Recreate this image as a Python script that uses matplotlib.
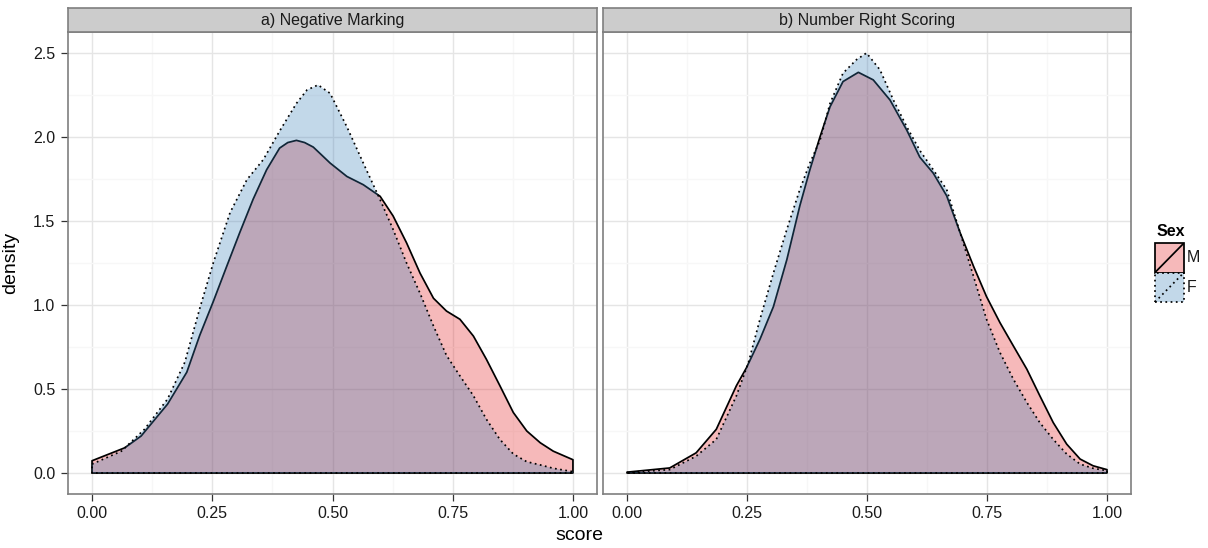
import matplotlib
matplotlib.use("Agg")
import matplotlib.pyplot as plt
from matplotlib.patches import Rectangle
from matplotlib.lines import Line2D

plt.rcParams['font.family'] = ['Liberation Sans', 'DejaVu Sans']

# values (score, density)
neg_m_x = [0.0, 0.068, 0.102, 0.157, 0.197, 0.224, 0.252, 0.28, 0.307, 0.335, 0.363, 0.39,
           0.407, 0.425, 0.442, 0.46, 0.477, 0.495, 0.53, 0.564, 0.599, 0.626, 0.654, 0.682,
           0.71, 0.737, 0.765, 0.793, 0.82, 0.848, 0.876, 0.904, 0.932, 0.959, 1.0]
neg_m_y = [0.073, 0.15, 0.22, 0.41, 0.6, 0.82, 1.02, 1.23, 1.43, 1.63, 1.805, 1.934,
           1.967, 1.98, 1.967, 1.94, 1.894, 1.845, 1.765, 1.716, 1.647, 1.53, 1.37, 1.19,
           1.04, 0.964, 0.915, 0.815, 0.677, 0.52, 0.36, 0.25, 0.18, 0.13, 0.079]
neg_f_x = [0.0, 0.061, 0.109, 0.157, 0.193, 0.224, 0.252, 0.287, 0.322, 0.356, 0.391, 0.425,
           0.447, 0.47, 0.495, 0.53, 0.564, 0.599, 0.626, 0.654, 0.682, 0.71, 0.737, 0.765,
           0.793, 0.82, 0.848, 0.876, 0.904, 0.932, 0.959, 1.0]
neg_f_y = [0.053, 0.13, 0.26, 0.44, 0.66, 0.98, 1.25, 1.55, 1.746, 1.865, 2.04, 2.20,
           2.28, 2.31, 2.26, 2.06, 1.845, 1.627, 1.45, 1.25, 1.07, 0.875, 0.70, 0.578,
           0.46, 0.32, 0.20, 0.113, 0.067, 0.048, 0.028, 0.008]

nrs_m_x = [0.0, 0.089, 0.144, 0.186, 0.228, 0.249, 0.277, 0.305, 0.333, 0.36, 0.381, 0.402,
           0.423, 0.45, 0.482, 0.513, 0.548, 0.583, 0.61, 0.638, 0.666, 0.694, 0.722, 0.749,
           0.777, 0.805, 0.833, 0.86, 0.888, 0.916, 0.944, 0.971, 1.0]
nrs_m_y = [0.005, 0.03, 0.12, 0.26, 0.52, 0.627, 0.796, 0.99, 1.27, 1.59, 1.805, 2.00,
           2.18, 2.33, 2.385, 2.34, 2.22, 2.04, 1.88, 1.785, 1.65, 1.43, 1.23, 1.05,
           0.895, 0.756, 0.618, 0.46, 0.30, 0.172, 0.083, 0.043, 0.02]
nrs_f_x = [0.0, 0.089, 0.144, 0.186, 0.228, 0.253, 0.277, 0.305, 0.333, 0.36, 0.381, 0.402,
           0.423, 0.45, 0.478, 0.499, 0.527, 0.555, 0.583, 0.61, 0.638, 0.666, 0.694, 0.722,
           0.749, 0.777, 0.805, 0.833, 0.86, 0.888, 0.916, 0.944, 0.971, 1.0]
nrs_f_y = [0.003, 0.02, 0.10, 0.20, 0.46, 0.657, 0.915, 1.19, 1.45, 1.687, 1.845, 1.98,
           2.20, 2.38, 2.46, 2.50, 2.40, 2.22, 2.06, 1.92, 1.805, 1.687, 1.43, 1.17,
           0.915, 0.717, 0.558, 0.42, 0.30, 0.20, 0.113, 0.053, 0.028, 0.014]

panels = [
    ("a) Negative Marking", (neg_m_x, neg_m_y), (neg_f_x, neg_f_y)),
    ("b) Number Right Scoring", (nrs_m_x, nrs_m_y), (nrs_f_x, nrs_f_y)),
]
sex_labels = ["M", "F"]
fill_cols = ["#E41A1C", "#377EB8"]
line_styles = ["-", (0, (1, 2.0))]

W, H = 1208, 548
fig = plt.figure(figsize=(W / 100, H / 100), dpi=100)

def fx(px):
    return px / W

def fy(py):
    return 1 - py / H

panel_px = [(68, 597), (603, 1131)]
top_px, bot_px, strip_top = 32, 494, 8
border = "#7f7f7f"

for i, (title, m, f) in enumerate(panels):
    l, r = panel_px[i]
    ax = fig.add_axes([fx(l), fy(bot_px), fx(r - l), (bot_px - top_px) / H])
    ax.set_xlim(-0.05, 1.05)
    ax.set_ylim(-0.125, 2.625)
    ax.set_xticks([0, 0.25, 0.5, 0.75, 1.0])
    ax.set_xticklabels(["0.00", "0.25", "0.50", "0.75", "1.00"])
    ax.set_xticks([0.125, 0.375, 0.625, 0.875], minor=True)
    ax.set_yticks([0, 0.5, 1.0, 1.5, 2.0, 2.5])
    ax.set_yticks([0.25, 0.75, 1.25, 1.75, 2.25], minor=True)
    ax.grid(which="major", color="#e5e5e5", lw=1.0)
    ax.grid(which="minor", color="#f7f7f7", lw=1.0)
    ax.set_axisbelow(True)
    ax.tick_params(which="major", length=5, width=0.9, color="#333333",
                   labelsize=11.5, pad=4, labelcolor="#1a1a1a")
    ax.tick_params(which="minor", length=0)
    if i == 1:
        ax.tick_params(axis="y", which="major", left=False, labelleft=False)
    for s in ax.spines.values():
        s.set_color(border)
        s.set_linewidth(1.2)
    for k, (xs, ys) in enumerate([m, f]):
        px = list(xs) + [xs[-1], xs[0]]
        py = list(ys) + [0, 0]
        ax.fill(px, py, facecolor=fill_cols[k], alpha=0.3, edgecolor="none")
        poly = ax.fill(px, py, facecolor="none", edgecolor="black", lw=1.25,
                       linestyle=line_styles[k])[0]
        poly.set_joinstyle("round")
    # strip
    sax = fig.add_axes([fx(l), fy(top_px), fx(r - l), (top_px - strip_top) / H])
    sax.set_facecolor("#cccccc")
    sax.set_xticks([])
    sax.set_yticks([])
    for s in sax.spines.values():
        s.set_color(border)
        s.set_linewidth(1.2)
    sax.text(0.5, 0.48, title, ha="center", va="center", fontsize=11.5,
             color="#1a1a1a", transform=sax.transAxes)
    if i == 0:
        ax.set_ylabel("density", fontsize=14, labelpad=10)

fig.text(fx(579), fy(535), "score", ha="center", va="center", fontsize=14)

# legend
lax = fig.add_axes([fx(1155), fy(302), fx(29), 59 / H])
lax.set_xlim(0, 1)
lax.set_ylim(0, 2)
lax.axis("off")
for k, lab in enumerate(sex_labels):
    y0 = 1 - k
    lax.add_patch(Rectangle((0, y0), 1, 1, facecolor="white", edgecolor="none"))
    lax.add_patch(Rectangle((0, y0), 1, 1, facecolor=fill_cols[k], alpha=0.3,
                            edgecolor="none"))
    lax.add_patch(Rectangle((0, y0), 1, 1, facecolor="none", edgecolor="black",
                            lw=1.25, linestyle=line_styles[k], clip_on=False))
    lax.add_line(Line2D([0, 1], [y0, y0 + 1], color="black", lw=1.25,
                        linestyle=line_styles[k]))
    lax.text(1.08, y0 + 0.5, lab, ha="left", va="center", fontsize=11.5,
             color="#1a1a1a")
lax.text(0.05, 2.4, "Sex", ha="left", va="center", fontsize=11.5,
         fontweight="bold")

fig.savefig("out.png", dpi=100)
